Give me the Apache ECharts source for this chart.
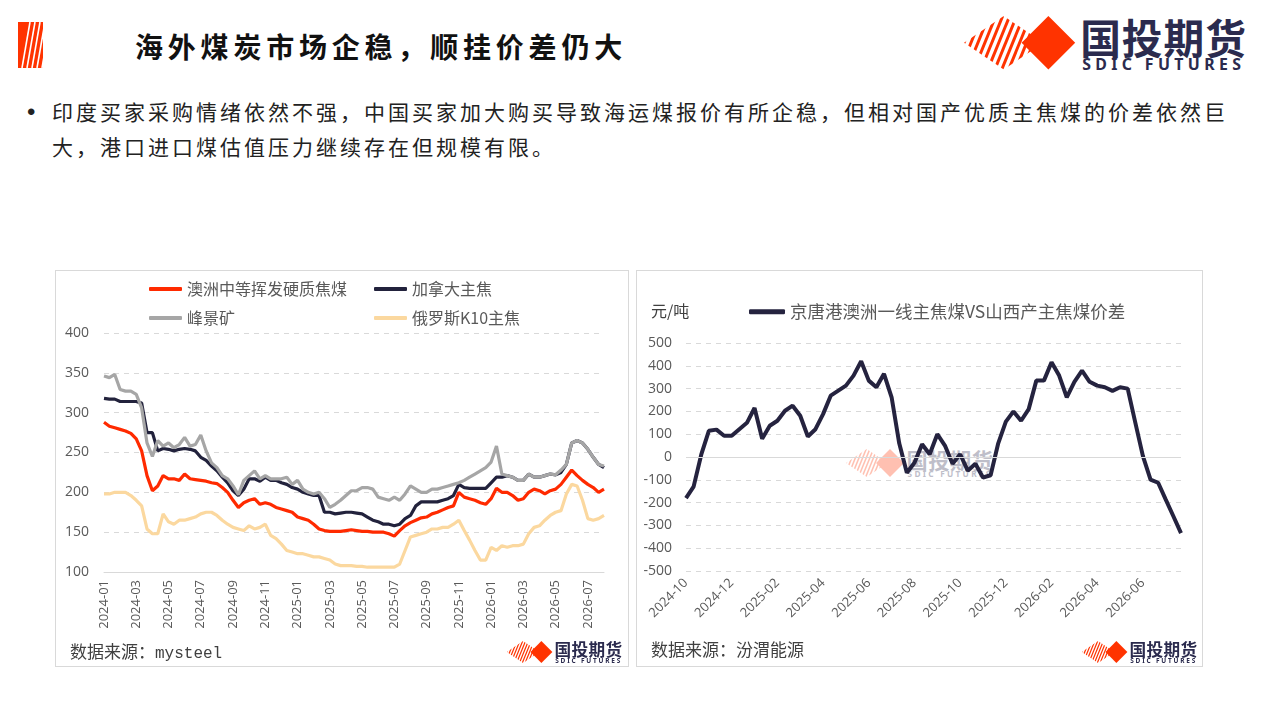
<!DOCTYPE html>
<html>
<head>
<meta charset="utf-8">
<script src="https://cdn.jsdelivr.net/npm/echarts@6/dist/echarts.min.js"></script>
<style>
body{margin:0;width:1280px;height:720px;background:#fff;position:relative;overflow:hidden;font-family:"Noto Sans CJK SC",sans-serif;}
.abs{position:absolute;}
#title{left:135px;top:26px;font-size:28px;font-weight:bold;letter-spacing:4.8px;color:#111;white-space:nowrap;}
#bullet{left:27px;top:94px;font-size:24px;line-height:35px;color:#222;font-family:"Liberation Sans",sans-serif;}
#text{left:52px;top:94px;font-size:21px;letter-spacing:3px;line-height:35px;color:#222;white-space:nowrap;}
.panel{position:absolute;border:1px solid #d9d9d9;background:#fff;}
.chart{position:absolute;left:0;top:0;width:100%;height:100%;}
.src{font-size:17px;color:#404040;white-space:nowrap;}
.mono{font-family:"Liberation Mono","DejaVu Sans Mono",monospace;font-size:16px;}
</style>
</head>
<body>
<svg class="abs" style="left:18px;top:22px" width="25" height="46" viewBox="0 0 25 46">
  <rect x="0" y="0" width="25" height="46" fill="#ff3300"/>
  <g stroke="#fff" stroke-width="1.6">
    <line x1="4" y1="46" x2="12" y2="0"/><line x1="9" y1="46" x2="17" y2="0"/>
    <line x1="14" y1="46" x2="22" y2="0"/><line x1="19" y1="46" x2="27" y2="0"/>
    <line x1="24" y1="46" x2="32" y2="0"/>
  </g>
</svg>
<div id="title" class="abs">海外煤炭市场企稳，顺挂价差仍大</div>
<div id="logoTop" class="abs" style="left:962px;top:16px"></div>
<div id="bullet" class="abs">•</div>
<div id="text" class="abs">印度买家采购情绪依然不强，中国买家加大购买导致海运煤报价有所企稳，但相对国产优质主焦煤的价差依然巨<br>大，港口进口煤估值压力继续存在但规模有限。</div>

<div class="panel" style="left:55px;top:270px;width:572px;height:395px">
  <div id="left" class="chart"></div>
  <div class="abs src" style="left:14px;top:367px">数据来源：<span class="mono">mysteel</span></div>
  <div id="logoL" class="abs" style="left:450px;top:370px"></div>
</div>

<div class="panel" style="left:636px;top:270px;width:565px;height:395px">
  <div id="wm" class="abs" style="left:208px;top:178px;opacity:0.3"></div>
  <div id="right" class="chart"></div>
  <div class="abs" style="left:14px;top:27px;font-size:16px;color:#404040">元/吨</div>
  <div class="abs src" style="left:14px;top:365px">数据来源：汾渭能源</div>
  <div id="logoR" class="abs" style="left:444px;top:370px"></div>
</div>

<script>
// 澳洲中等挥发硬质焦煤 / 加拿大主焦 / 峰景矿 / 俄罗斯K10主焦, 每月1、11、21日, 2024-01-01起
var ausMid = [288,283,281,279,277,274,267,252,221,202,
  208,221,217,217,215,223,217,216,215,214,
  212,211,206,200,190,181,187,190,192,185,
  187,185,181,179,177,175,169,167,165,160,
  154,152,151,151,151,152,153,152,151,151,
  150,150,150,148,145,152,158,162,165,168,
  169,173,175,178,181,183,200,194,192,190,
  187,185,192,205,200,200,196,190,192,200,
  204,202,198,202,204,210,219,228,221,215,
  210,206,200,204];
var canada = [318,317,317,314,314,314,314,312,275,275,
  252,255,254,252,254,255,254,252,244,240,
  233,227,219,212,202,196,204,217,217,214,
  219,215,215,212,210,206,204,200,198,196,
  196,175,175,173,174,175,175,174,173,169,
  165,163,160,160,158,160,167,171,183,188,
  188,188,188,190,192,196,210,206,205,205,
  205,205,212,219,219,221,219,215,215,223,
  219,219,221,223,222,225,235,262,265,262,
  254,244,235,231];
var peakDowns = [346,344,348,329,327,327,323,306,262,245,
  265,258,262,256,260,269,258,260,272,252,
  237,231,221,217,208,197,215,221,227,217,
  221,217,217,217,219,210,215,204,200,198,
  200,192,181,185,190,196,202,202,206,206,
  204,194,192,190,194,190,198,208,204,200,
  200,204,204,206,208,210,212,215,219,223,
  227,231,238,258,223,221,219,215,215,223,
  219,219,221,223,222,228,235,262,265,262,
  254,244,235,233];
var russiaK10 = [198,198,200,200,200,196,190,183,154,148,
  148,173,163,160,165,165,167,169,173,175,
  175,171,165,160,156,154,152,158,154,156,
  160,146,142,135,127,125,123,123,121,119,
  119,117,115,110,108,108,108,107,107,106,
  106,106,106,106,106,110,127,144,146,148,
  150,154,154,156,156,160,165,152,140,127,
  115,115,131,127,133,131,133,133,135,148,
  156,158,165,171,175,177,198,210,208,190,
  167,165,167,171];

// 京唐港澳洲一线主焦煤VS山西产主焦煤价差, 2024-10-01起
var spread = [-180,-130,10,115,120,93,93,122,150,215,
  80,137,159,203,225,181,90,122,188,269,
  291,313,357,420,335,306,365,262,60,-69,
  -25,56,12,100,50,-30,12,-60,-30,-90,
  -80,60,155,200,159,210,335,335,416,357,
  262,330,379,330,313,306,290,306,300,151,
  4,-99,-113,-187,-260,-334];

var leftNames = ['澳洲中等挥发硬质焦煤','加拿大主焦','峰景矿','俄罗斯K10主焦'];
var rightName = '京唐港澳洲一线主焦煤VS山西产主焦煤价差';

function makeDates(y, m, count) {
  var days = ['01','11','21'], out = [];
  for (var i = 0; i < count; i++) {
    var k = m - 1 + Math.floor(i / 3);
    var yy = y + Math.floor(k / 12), mm = k % 12 + 1;
    out.push(yy + '-' + (mm < 10 ? '0' : '') + mm + '-' + days[i % 3]);
  }
  return out;
}
var leftDates = makeDates(2024, 1, ausMid.length);
var rightDates = makeDates(2024, 10, spread.length);

var uid = 0;
function logo(w) {
  uid++;
  var h = w * 56 / 290, lines = '';
  for (var x = -30; x < 100; x += 7) lines += '<line x1="' + x + '" y1="54" x2="' + (x + 22) + '" y2="0"/>';
  return '<svg width="' + w + '" height="' + h + '" viewBox="0 0 290 56">' +
    '<defs><clipPath id="c' + uid + '"><polygon points="2,27 42,0 82,27 42,54"/></clipPath></defs>' +
    '<g clip-path="url(#c' + uid + ')" stroke="#ff3300" stroke-width="3">' + lines + '</g>' +
    '<polygon points="60,27 87,0 114,27 87,54" fill="#ff3300"/>' +
    '<text x="119" y="38" font-family="Noto Sans CJK SC" font-weight="bold" font-size="41" fill="#2b2b4e" letter-spacing="1">国投期货</text>' +
    '<text x="121" y="54" font-family="Noto Sans" font-weight="bold" font-size="16" fill="#2b2b4e" letter-spacing="4.4">SDIC FUTURES</text>' +
    '</svg>';
}
document.getElementById('logoTop').innerHTML = logo(288);
document.getElementById('logoL').innerHTML = logo(118);
document.getElementById('logoR').innerHTML = logo(118);
document.getElementById('wm').innerHTML = logo(150);

var labelColor = '#595959';
var cjk = '"Noto Sans CJK SC", sans-serif';
var num = '"Open Sans", "Noto Sans CJK SC", sans-serif';

var leftChart = echarts.init(document.getElementById('left'));
var legendBase = {
  orient: 'vertical', top: 5, itemGap: 13, itemWidth: 33, itemHeight: 4, icon: 'roundRect',
  textStyle: {fontSize: 16, color: labelColor, fontFamily: cjk}
};
leftChart.setOption({
  animation: false,
  legend: [
    Object.assign({left: 88, data: [leftNames[0], leftNames[2]]}, legendBase),
    Object.assign({left: 313, data: [leftNames[1], leftNames[3]]}, legendBase)
  ],
  grid: {left: 48, right: 24, top: 62, bottom: 94},
  xAxis: {
    type: 'category', data: leftDates, boundaryGap: false,
    axisLine: {lineStyle: {color: '#d9d9d9'}},
    axisTick: {show: false},
    axisLabel: {
      rotate: 90, interval: 5, margin: 8, color: labelColor, fontSize: 13, fontFamily: num,
      formatter: function (v) { return v.slice(0, 7); }
    }
  },
  yAxis: {
    type: 'value', min: 100, max: 400, interval: 50,
    axisLabel: {color: labelColor, fontSize: 14, margin: 15, fontFamily: num},
    splitLine: {lineStyle: {type: [5, 5], color: '#d9d9d9'}}
  },
  series: [
    {name: leftNames[0], type: 'line', data: ausMid, symbol: 'none', color: '#ff2a00', lineStyle: {width: 3.2}},
    {name: leftNames[1], type: 'line', data: canada, symbol: 'none', color: '#22223c', lineStyle: {width: 3.2}},
    {name: leftNames[2], type: 'line', data: peakDowns, symbol: 'none', color: '#a6a6a6', lineStyle: {width: 3.2}},
    {name: leftNames[3], type: 'line', data: russiaK10, symbol: 'none', color: '#fbd89f', lineStyle: {width: 3.2}}
  ]
});

var rightChart = echarts.init(document.getElementById('right'));
rightChart.setOption({
  animation: false,
  legend: {
    left: 107, top: 27, itemWidth: 36, itemHeight: 5, icon: 'roundRect',
    textStyle: {fontSize: 17.5, color: labelColor, fontFamily: cjk},
    data: [rightName]
  },
  grid: {left: 49, right: 21, top: 72, bottom: 95},
  xAxis: {
    type: 'category', data: rightDates, boundaryGap: false,
    axisLine: {show: false},
    axisTick: {show: false},
    axisLabel: {
      rotate: 45, interval: 5, margin: 10, color: labelColor, fontSize: 13, fontFamily: num,
      formatter: function (v) { return v.slice(0, 7); }
    }
  },
  yAxis: {
    type: 'value', min: -500, max: 500, interval: 100,
    axisLabel: {color: labelColor, fontSize: 14, margin: 14, fontFamily: num},
    splitLine: {lineStyle: {type: [5, 5], color: '#d9d9d9'}}
  },
  series: [{
    name: rightName, type: 'line', data: spread, symbol: 'none', color: '#25233f', lineStyle: {width: 4},
    markLine: {
      silent: true, symbol: 'none', label: {show: false},
      lineStyle: {color: '#d9d9d9', type: 'solid', width: 1},
      data: [{yAxis: 0}]
    }
  }]
});
</script>
</body>
</html>
